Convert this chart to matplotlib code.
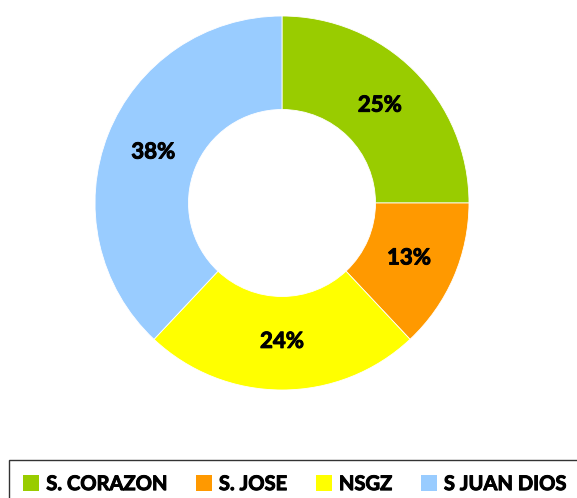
import matplotlib.pyplot as plt
import matplotlib.patheffects as pe

plt.rcParams["font.family"] = ["Lato", "DejaVu Sans"]

labels = ["S. CORAZON", "S. JOSE", "NSGZ", "S JUAN DIOS"]
shares = [25, 13, 24, 38]
colors = ["#99CC00", "#FF9900", "#FFFF00", "#99CCFF"]

W, H = 577, 498
fig = plt.figure(figsize=(W / 100, H / 100), dpi=100)

# pie centre at (282, 203) px from top-left, outer radius 187 px
cx, cy, r = 282, 203, 187
ax = fig.add_axes([(cx - r) / W, (H - cy - r) / H, 2 * r / W, 2 * r / H])

# a thin stroke makes Lato bold look closer to the heavy original font
heavy = [pe.withStroke(linewidth=0.7, foreground="black")]

wedges, _, autotexts = ax.pie(
    shares, colors=colors, startangle=90, counterclock=False,
    radius=1, autopct="%1.0f%%", pctdistance=0.74,
    wedgeprops=dict(width=0.5, edgecolor="white", linewidth=0.6),
    textprops=dict(fontsize=16, fontweight="bold", color="black"),
)
for t in autotexts:
    t.set_path_effects(heavy)
ax.set_xlim(-1, 1)
ax.set_ylim(-1, 1)
ax.axis("off")

leg = fig.legend(
    wedges, labels, loc="upper left",
    bbox_to_anchor=(9 / W, 1 - 460 / H), borderaxespad=0,
    ncol=4, frameon=True, fancybox=False, edgecolor="black",
    handlelength=0.8, handleheight=0.8,
    handletextpad=0.35, columnspacing=1.42, borderpad=0.7,
    prop=dict(size=14.5, weight="bold"),
)
leg.get_frame().set_linewidth(1.0)
for h in leg.legend_handles:
    h.set_edgecolor("none")
for t in leg.get_texts():
    t.set_path_effects(heavy)

fig.savefig("out.png", dpi=100)
